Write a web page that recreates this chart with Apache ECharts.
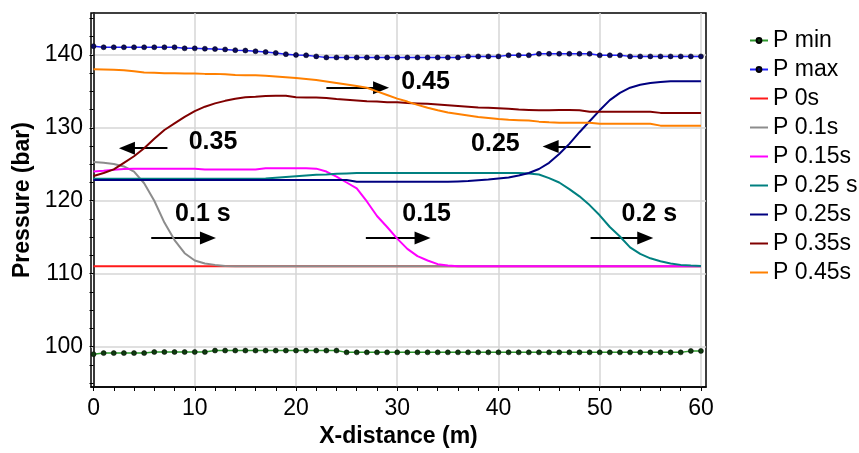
<!DOCTYPE html>
<html>
<head>
<meta charset="utf-8">
<script src="https://cdn.jsdelivr.net/npm/echarts@6/dist/echarts.min.js"></script>
<style>
    html, body { margin: 0; padding: 0; background: #fff; }
    #chart { width: 859px; height: 453px; }
</style>
</head>
<body>
<div id="chart"></div>
<script>
// distance along x (m)
const xs = [0, 1, 2, 3, 4, 5, 6, 7, 8, 9, 10, 11, 12, 13, 14, 15, 16, 17, 18, 19, 20,
    21, 22, 23, 24, 25, 26, 27, 28, 29, 30, 31, 32, 33, 34, 35, 36, 37, 38, 39, 40,
    41, 42, 43, 44, 45, 46, 47, 48, 49, 50, 51, 52, 53, 54, 55, 56, 57, 58, 59, 60]

const pMin = [98.95, 99.1, 99.1, 99.1, 99.1, 99.1, 99.25, 99.25, 99.25, 99.25, 99.25, 99.25,
    99.45, 99.45, 99.45, 99.45, 99.45, 99.45, 99.45, 99.45, 99.45, 99.45, 99.45, 99.45, 99.45,
    99.2, 99.2, 99.2, 99.2, 99.2, 99.2, 99.2, 99.2, 99.2, 99.2, 99.2, 99.2, 99.2, 99.2, 99.2,
    99.2, 99.2, 99.2, 99.2, 99.2, 99.2, 99.2, 99.2, 99.2, 99.2, 99.2, 99.2, 99.2, 99.2, 99.2,
    99.2, 99.2, 99.2, 99.2, 99.4, 99.4]
const pMax = [141.2, 141.05, 141.05, 141.05, 141.05, 141.05, 141.05, 141.05, 141.05,
    140.9, 140.9, 140.85, 140.8, 140.75, 140.65, 140.6, 140.5, 140.4, 140.27, 140.1, 140.0,
    139.95, 139.8, 139.65, 139.65, 139.65, 139.65, 139.65, 139.65, 139.65, 139.65, 139.65,
    139.65, 139.65, 139.65, 139.65, 139.65, 139.8, 139.8, 139.8, 139.8, 139.95, 139.95, 139.95,
    140.15, 140.15, 140.15, 140.15, 140.15, 140.15, 139.95, 139.95, 139.95,
    139.8, 139.8, 139.8, 139.8, 139.8, 139.8, 139.8, 139.8]
const p0 = [111, 111, 111, 111, 111, 111, 111, 111, 111, 111, 111, 111, 111, 111, 111, 111,
    111, 111, 111, 111, 111, 111, 111, 111, 111, 111, 111, 111, 111, 111, 111, 111, 111, 111,
    111, 111, 111, 111, 111, 111, 111, 111, 111, 111, 111, 111, 111, 111, 111, 111, 111, 111,
    111, 111, 111, 111, 111, 111, 111, 111, 111]
const p01 = [125.3, 125.2, 125.05, 124.7, 124.0, 122.4, 120.0, 117.0, 114.6, 112.8, 111.8,
    111.4, 111.2, 111.05, 111, 111, 111, 111, 111, 111, 111, 111, 111, 111, 111, 111, 111,
    111, 111, 111, 111, 111, 111, 111, 111, 111, 111, 111, 111, 111, 111, 111, 111, 111, 111,
    111, 111, 111, 111, 111, 111, 111, 111, 111, 111, 111, 111, 111, 111, 111, 111]
const p015 = [124.0, 124.1, 124.25, 124.35, 124.4, 124.4, 124.4, 124.4, 124.4, 124.4, 124.4,
    124.27, 124.27, 124.27, 124.27, 124.27, 124.27, 124.45, 124.45, 124.45, 124.45, 124.45,
    124.4, 124.0, 123.3, 122.5, 121.7, 119.9, 117.9, 116.4, 114.8, 113.4, 112.4, 111.8, 111.3,
    111.1, 111, 111, 111, 111, 111, 111, 111, 111, 111, 111, 111, 111, 111, 111, 111, 111,
    111, 111, 111, 111, 111, 111, 111, 111, 111]
const p025a = [123.0, 123.0, 123.0, 123.0, 123.0, 123.0, 123.0, 123.0, 123.0, 123.0, 123.0,
    123.0, 123.0, 123.0, 123.0, 123.0, 123.0, 123.05, 123.15, 123.25, 123.35, 123.45, 123.55,
    123.6, 123.7, 123.75, 123.8, 123.8, 123.8, 123.8, 123.8, 123.8, 123.8, 123.8, 123.8, 123.8,
    123.8, 123.8, 123.8, 123.8, 123.8, 123.8, 123.8, 123.75, 123.6, 123.1, 122.5, 121.6, 120.6,
    119.4, 118.0, 116.4, 115.1, 113.6, 112.7, 112.1, 111.7, 111.4, 111.2, 111.1, 111.05]
const p025b = [122.85, 122.85, 122.85, 122.85, 122.85, 122.85, 122.85, 122.85, 122.85, 122.85,
    122.85, 122.85, 122.85, 122.85, 122.85, 122.85, 122.85, 122.85, 122.85, 122.85, 122.85,
    122.85, 122.85, 122.85, 122.85, 122.85, 122.6, 122.6, 122.6, 122.6, 122.6, 122.6, 122.6,
    122.6, 122.6, 122.6, 122.65, 122.7, 122.8, 122.9, 123.05, 123.2, 123.45, 123.8, 124.35,
    125.2, 126.4, 127.8, 129.4, 130.9, 132.4, 133.8, 134.8, 135.5, 135.9, 136.15, 136.3,
    136.4, 136.4, 136.4, 136.4]
const p035 = [123.4, 123.8, 124.3, 125.2, 126.1, 127.2, 128.5, 129.7, 130.6, 131.5, 132.3,
    132.9, 133.35, 133.7, 134.0, 134.2, 134.25, 134.35, 134.4, 134.4, 134.2, 134.15, 134.15,
    134.1, 133.95, 133.85, 133.75, 133.65, 133.6, 133.5, 133.5, 133.4, 133.35, 133.3, 133.2,
    133.1, 133.0, 132.9, 132.8, 132.75, 132.7, 132.6, 132.5, 132.45, 132.4, 132.4, 132.45,
    132.45, 132.4, 132.2, 132.2, 132.2, 132.2, 132.2, 132.2, 132.2, 132.05, 132.05, 132.05,
    132.05, 132.05]
const p045 = [138.05, 138.0, 137.95, 137.9, 137.75, 137.6, 137.55, 137.5, 137.5, 137.45,
    137.45, 137.4, 137.4, 137.35, 137.25, 137.2, 137.2, 137.15, 137.05, 136.95, 136.85, 136.7,
    136.55, 136.35, 136.15, 135.95, 135.75, 135.5, 135.0, 134.5, 134.0, 133.6, 133.15, 132.75,
    132.4, 132.1, 131.9, 131.7, 131.5, 131.35, 131.2, 131.1, 131.05, 131.0, 130.85, 130.75,
    130.7, 130.7, 130.7, 130.7, 130.55, 130.55, 130.55, 130.55, 130.55, 130.55, 130.3, 130.3,
    130.3, 130.3, 130.3]

const names = ['P min', 'P max', 'P 0s', 'P 0.1s', 'P 0.15s', 'P 0.25 s', 'P 0.25s', 'P 0.35s', 'P 0.45s']
const colors = ['#2f9a2f', '#2222ff', '#ff1a1a', '#8c8c8c', '#ff00ff', '#008080', '#000080', '#800000', '#ff8000']
const values = [pMin, pMax, p0, p01, p015, p025a, p025b, p035, p045]

// tick and label positions
const xLabels = [0, 10, 20, 30, 40, 50, 60]
const xTicks = [0, 2, 4, 6, 8, 10, 12, 14, 16, 18, 20, 22, 24, 26, 28, 30, 32, 34, 36, 38, 40,
    42, 44, 46, 48, 50, 52, 54, 56, 58, 60]
const yLabels = [100, 110, 120, 130, 140]
const yTicks = [95, 97.5, 100, 102.5, 105, 107.5, 110, 112.5, 115, 117.5, 120, 122.5, 125,
    127.5, 130, 132.5, 135, 137.5, 140, 142.5, 145]

// arrow annotations: start x, end x, y, and their labels
const arrowFrom = [7.3, 5.7, 26.9, 49.1, 23.0, 49.1]
const arrowTo = [3.3, 11.3, 32.5, 54.5, 28.4, 45.15]
const arrowY = [127.2, 114.9, 114.9, 114.9, 135.5, 127.45]
const noteText = ['0.35', '0.1 s', '0.15', '0.2 s', '0.45', '0.25']
const noteX = [11.8, 10.8, 32.9, 54.9, 32.8, 39.7]
const noteY = [128.0, 118.2, 118.2, 118.2, 136.3, 127.7]

const FONT = 'Liberation Sans, Arial, sans-serif'

const chart = echarts.init(document.getElementById('chart'))

const series = names.map((name, i) => {
    const dotted = i < 2
    return {
        name: name,
        type: 'line',
        data: xs.map((x, k) => [x, values[i][k]]),
        symbol: dotted ? 'circle' : 'none',
        symbolSize: 5,
        showSymbol: dotted,
        lineStyle: { color: colors[i], width: dotted ? 1.5 : 2 },
        itemStyle: dotted
            ? { color: i === 0 ? '#0e3a0e' : '#0a0a60', borderColor: '#000', borderWidth: 0.5 }
            : { color: colors[i] },
        color: colors[i],
        z: 3 + i
    }
})

series.push({
    name: 'notes',
    type: 'line',
    data: [],
    z: 20,
    markLine: {
        silent: true,
        symbol: ['none', 'triangle'],
        symbolSize: [13, 16],
        lineStyle: { color: '#000', width: 2, type: 'solid' },
        label: { show: false },
        data: arrowFrom.map((x0, i) => [
            { coord: [x0, arrowY[i]] },
            { coord: [arrowTo[i], arrowY[i]] }
        ])
    },
    markPoint: {
        silent: true,
        symbol: 'circle',
        symbolSize: 1,
        itemStyle: { color: 'rgba(0,0,0,0)' },
        label: {
            show: true,
            position: 'inside',
            formatter: '{b}',
            color: '#000',
            fontFamily: FONT,
            fontSize: 25,
            fontWeight: 'bold'
        },
        data: noteText.map((t, i) => ({ name: t, coord: [noteX[i], noteY[i]] }))
    }
})

chart.setOption({
    animation: false,
    backgroundColor: '#fff',
    grid: {
        left: 91, right: 153, top: 13, bottom: 64,
        show: true, borderColor: '#000', borderWidth: 1.5
    },
    legend: {
        data: names.map((n, i) => (i < 2 ? n : { name: n, itemStyle: { opacity: 0 } })),
        orient: 'vertical',
        left: 744,
        top: 24,
        itemWidth: 18,
        itemHeight: 6,
        itemGap: 6,
        textStyle: { color: '#000', fontFamily: FONT, fontSize: 23, lineHeight: 22 }
    },
    xAxis: [{
        type: 'value',
        min: -0.25,
        max: 60.5,
        name: 'X-distance (m)',
        nameLocation: 'middle',
        nameGap: 38,
        nameTextStyle: { color: '#000', fontFamily: FONT, fontSize: 23, fontWeight: 'bold' },
        axisLine: { lineStyle: { color: '#000', width: 1.5 } },
        axisTick: { customValues: xTicks, length: 4, lineStyle: { color: '#000' } },
        axisLabel: { customValues: xLabels, margin: 10, color: '#000', fontFamily: FONT, fontSize: 23 },
        splitLine: { show: false }
    }, {
        type: 'value',
        min: -0.25,
        max: 60.5,
        position: 'bottom',
        axisLine: { show: false },
        axisTick: { show: false, customValues: xLabels },
        axisLabel: { show: false },
        splitLine: { show: true, lineStyle: { color: '#d6d6d6', width: 1.5 } }
    }],
    yAxis: [{
        type: 'value',
        min: 94.45,
        max: 145.75,
        name: 'Pressure (bar)',
        nameLocation: 'middle',
        nameGap: 56,
        nameTextStyle: { color: '#000', fontFamily: FONT, fontSize: 23, fontWeight: 'bold' },
        axisLine: { show: true, lineStyle: { color: '#000', width: 1.5 } },
        axisTick: { show: true, customValues: yTicks, length: 4, lineStyle: { color: '#000' } },
        axisLabel: { customValues: yLabels, margin: 8, color: '#000', fontFamily: FONT, fontSize: 23 },
        splitLine: { show: false }
    }, {
        type: 'value',
        min: 94.45,
        max: 145.75,
        position: 'left',
        axisLine: { show: false },
        axisTick: { show: false, customValues: yLabels },
        axisLabel: { show: false },
        splitLine: { show: true, lineStyle: { color: '#d6d6d6', width: 1.5 } }
    }],
    series: series
})
</script>
</body>
</html>
